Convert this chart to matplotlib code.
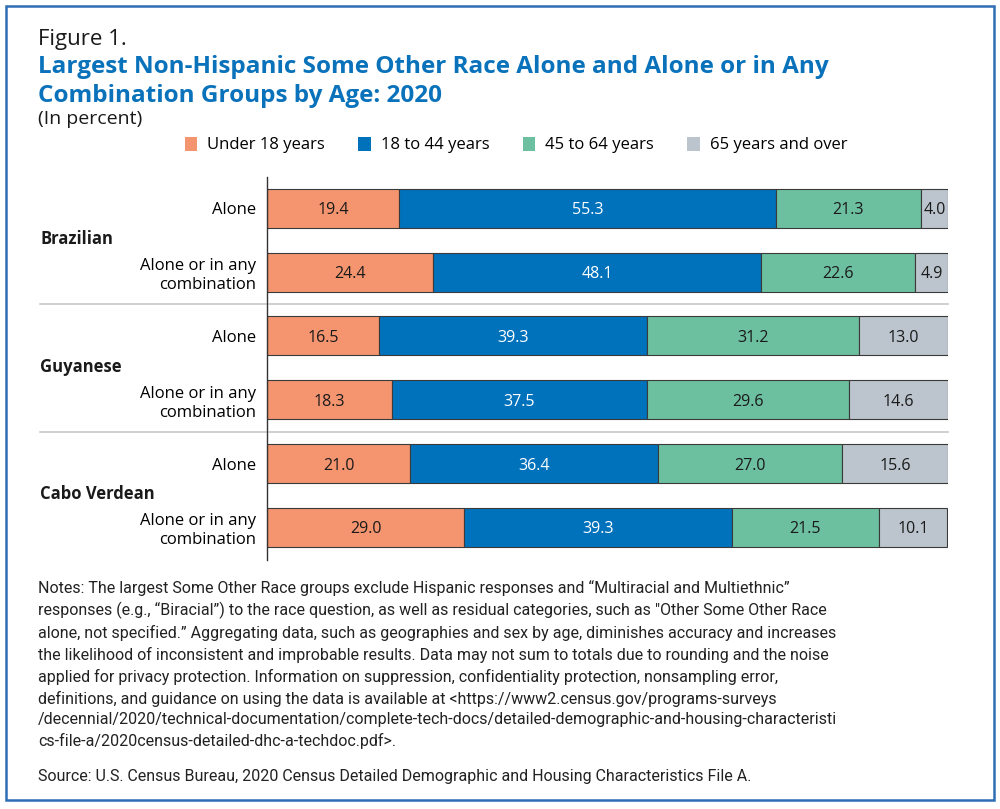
import numpy as np
import matplotlib.pyplot as plt
import matplotlib.transforms as mtransforms
from matplotlib.patches import Rectangle, Patch

# Data
groups = ['Brazilian', 'Guyanese', 'Cabo Verdean']
kinds = ['Alone', 'Alone or in any\ncombination']
ages = ['Under 18 years', '18 to 44 years', '45 to 64 years', '65 years and over']
under18 = [19.4, 24.4, 16.5, 18.3, 21.0, 29.0]
age18_44 = [55.3, 48.1, 39.3, 37.5, 36.4, 39.3]
age45_64 = [21.3, 22.6, 31.2, 29.6, 27.0, 21.5]
age65 = [4.0, 4.9, 13.0, 14.6, 15.6, 10.1]

colors = ['#F4956F', '#0072BC', '#6CC09F', '#BCC5CD']
text_colors = ['#1a1a1a', 'white', '#1a1a1a', '#1a1a1a']
blue_title = '#0A72BA'

plt.rcParams['font.family'] = ['Open Sans', 'DejaVu Sans']
narrow = ['Liberation Sans Narrow', 'Roboto', 'DejaVu Sans']

fig = plt.figure(figsize=(10, 8.09), dpi=100)
fig.patches.append(Rectangle((0.006, 0.011), 0.988, 0.982, transform=fig.transFigure,
                             fill=False, edgecolor='#2F6DB5', linewidth=1.8))

ax = fig.add_axes([0.267, 1 - 560 / 809, 0.681, (560 - 177) / 809])
series = [under18, age18_44, age45_64, age65]
y = np.arange(len(under18))
left = np.zeros(len(y))
for vals, c, tc in zip(series, colors, text_colors):
    vals = np.array(vals)
    ax.barh(y, vals, left=left, height=0.61, color=c, edgecolor='#3a3a3a', linewidth=0.8)
    for yi, l, v in zip(y, left, vals):
        ax.text(l + v / 2, yi + 0.03, f'{v:.1f}', ha='center', va='center', fontsize=11.5, color=tc)
    left += vals

ax.set_xlim(0, 100)
ax.set_ylim(5.51, -0.49)
ax.set_xticks([])
ax.set_yticks(y)
ax.set_yticklabels(kinds * 3, fontsize=12, linespacing=1.25)
ax.tick_params(axis='y', length=0, pad=8)
for s in ['top', 'right', 'bottom']:
    ax.spines[s].set_visible(False)
ax.spines['left'].set_color('#333333')
ax.spines['left'].set_linewidth(1.0)

for sep in [1.5, 3.5]:
    ax.axhline(sep, xmin=(40 - 267) / 681, xmax=1, color='#c8c8c8', linewidth=1.2, clip_on=False)

# group labels: figure x, data y
trans = mtransforms.blended_transform_factory(fig.transFigure, ax.transData)
for i, g in enumerate(groups):
    ax.text(0.040, 2 * i + 0.48, g, transform=trans, ha='left', va='center',
            fontsize=12, fontweight='bold', color='#1a1a1a', clip_on=False)

# Titles
fig.text(0.038, 1 - 40 / 809, 'Figure 1.', fontsize=16, va='center', color='#1a1a1a')
fig.text(0.038, 1 - 67 / 809, 'Largest Non-Hispanic Some Other Race Alone and Alone or in Any',
         fontsize=17.5, fontweight='bold', va='center', color=blue_title)
fig.text(0.038, 1 - 96 / 809, 'Combination Groups by Age: 2020',
         fontsize=17.5, fontweight='bold', va='center', color=blue_title)
fig.text(0.038, 1 - 119 / 809, '(In percent)', fontsize=14, va='center', color='#1a1a1a')

handles = [Patch(facecolor=c, edgecolor='none') for c in colors]
fig.legend(handles, ages, loc='center', bbox_to_anchor=(0.516, 1 - 145 / 809), ncol=4,
           frameon=False, fontsize=12, handlelength=0.75, handleheight=0.9,
           handletextpad=0.6, columnspacing=2.0)

notes = ('Notes: The largest Some Other Race groups exclude Hispanic responses and \u201cMultiracial and Multiethnic\u201d\n'
         'responses (e.g., \u201cBiracial\u201d) to the race question, as well as residual categories, such as "Other Some Other Race\n'
         'alone, not specified.\u201d Aggregating data, such as geographies and sex by age, diminishes accuracy and increases\n'
         'the likelihood of inconsistent and improbable results. Data may not sum to totals due to rounding and the noise\n'
         'applied for privacy protection. Information on suppression, confidentiality protection, nonsampling error,\n'
         'definitions, and guidance on using the data is available at <https://www2.census.gov/programs-surveys\n'
         '/decennial/2020/technical-documentation/complete-tech-docs/detailed-demographic-and-housing-characteristi\n'
         'cs-file-a/2020census-detailed-dhc-a-techdoc.pdf>.')
fig.text(0.038, 1 - 580 / 809, notes, fontsize=11.5, va='top', ha='left', color='#222222',
         family=narrow, linespacing=1.45)
fig.text(0.038, 1 - 777 / 809, 'Source: U.S. Census Bureau, 2020 Census Detailed Demographic and Housing Characteristics File A.',
         fontsize=11.5, va='center', ha='left', color='#222222', family=narrow)

fig.savefig('out.png', dpi=100)
